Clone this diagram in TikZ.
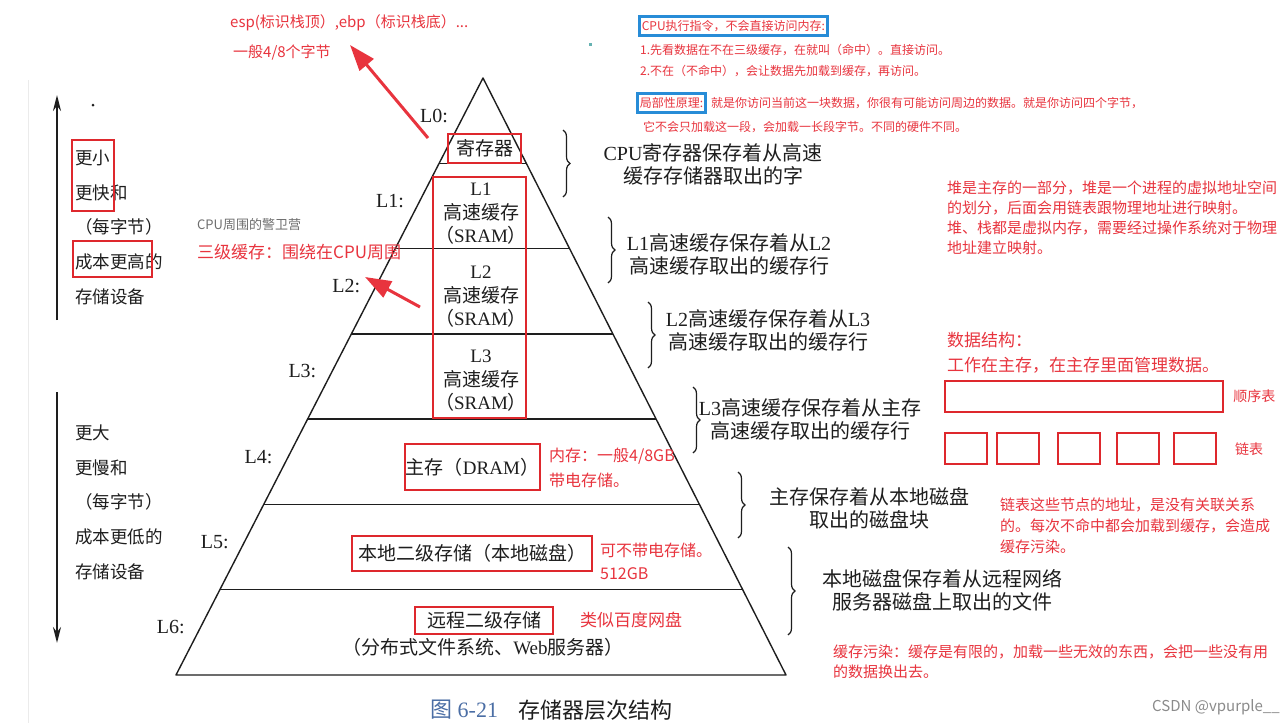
\documentclass[tikz,border=0pt]{standalone}
\usepackage{fontspec}
\setmainfont{Liberation Serif}
\newfontfamily\cjk{Noto Sans CJK SC}
\usetikzlibrary{calc,positioning,arrows.meta,decorations.pathreplacing}
\definecolor{ink}{RGB}{30,30,30}
\definecolor{notered}{RGB}{232,52,62}
\definecolor{boxred}{RGB}{222,40,45}
\definecolor{boxblue}{RGB}{40,140,215}
\definecolor{figblue}{RGB}{75,110,165}
\definecolor{soft}{RGB}{110,110,110}
\newcommand{\fsz}[2]{\fontsize{#1}{#2}\selectfont}
\tikzset{
    level tag/.style={font=\rmfamily\fsz{20}{24}, text=ink, anchor=east, inner sep=0pt},
    book text/.style={font=\cjk\fsz{19}{23.5}, text=ink, align=center, inner sep=0pt},
    hold text/.style={font=\cjk\fsz{20}{23}, text=ink, align=center, inner sep=0pt},
    side text/.style={font=\cjk\fsz{17.5}{22}, text=ink, anchor=west, inner sep=0pt},
    note/.style={font=\cjk\fsz{15}{20}, text=notered, anchor=west, align=left, inner sep=0pt},
    small note/.style={note, font=\cjk\fsz{12}{14}},
    red frame/.style={draw=boxred, line width=2.5pt},
    blue frame/.style={draw=boxblue, line width=2.5pt, inner xsep=2.5pt, inner ysep=4pt},
    level brace/.style={draw=ink, line width=1.2pt, decorate, decoration={brace, amplitude=7pt}},
    mark arrow/.style={draw=notered, line width=3pt, -{Triangle[length=26pt,width=18pt]}},
    >={Stealth[length=16pt,width=8pt]}
}

\begin{document}
\begin{tikzpicture}[x=1pt,y=-1pt]
\useasboundingbox (0,0) rectangle (1286,723);
\fill[white] (0,0) rectangle (1286,723);
\draw[black!8, line width=1pt] (28,80) -- (28,723);

% pyramid
\coordinate (apex) at (483,78);
\coordinate (bl) at (176,675);
\coordinate (br) at (786,675);
\draw[ink, line width=1.4pt, line join=round] (bl) -- (apex) -- (br) -- cycle;
\foreach \k [evaluate=\k as \f using \k/7] in {1,...,6}
    \draw[ink, line width=1.4pt] ($(apex)!\f!(bl)$) -- ($(apex)!\f!(br)$);
\foreach \k [evaluate=\k as \f using (\k+0.5)/7] in {0,...,6}
    \node[level tag] (lvl\k) at ($(apex)!\f!(bl)+(-13,-5)$) {L\k:};

\node[book text, red frame, minimum width=73pt, minimum height=29pt] (reg) at (484.5,148.5) {寄存器};
\foreach \i/\y in {1/214,2/297,3/381}
    \node[book text] (cache\i) at (481,\y) {\textrm{L\i}\\高速缓存\\（\textrm{SRAM}）};
\draw[red frame] (433,177) rectangle (526,418);
\node[book text, red frame, minimum width=135pt, minimum height=46pt] (dram) at (472.5,467) {主存（\textrm{DRAM}）};
\node[book text, red frame, minimum width=240pt, minimum height=35pt] (disk) at (472,553.5) {本地二级存储（本地磁盘）};
\node[book text, red frame, minimum width=138pt, minimum height=27pt] (remote) at (484,620.5) {远程二级存储};
\node[book text] (dfs) at (483,647) {（分布式文件系统、\textrm{Web}服务器）};

% braces on the right
\foreach \k/\x/\ya/\yb in {0/563/130/197,1/608/217/283,2/648/302/368,3/693/387/453,4/738/472/538,5/788/547/635}
    \draw[level brace] (\x,\ya) -- (\x,\yb);
\foreach \k/\x/\y/\txt in {0/713/164/{\textrm{CPU}寄存器保存着从高速\\缓存存储器取出的字},
        1/729/254/{\textrm{L1}高速缓存保存着从\textrm{L2}\\高速缓存取出的缓存行},
        2/768/330/{\textrm{L2}高速缓存保存着从\textrm{L3}\\高速缓存取出的缓存行},
        3/810/419/{\textrm{L3}高速缓存保存着从主存\\高速缓存取出的缓存行},
        4/869/508/{主存保存着从本地磁盘\\取出的磁盘块},
        5/942/590/{本地磁盘保存着从远程网络\\服务器磁盘上取出的文件}}
    \node[hold text] (hold\k) at (\x,\y) {\txt};

% left side
\coordinate (upfoot) at (57,320);
\coordinate (uptip) at (57,95);
\coordinate (downfoot) at (57,392);
\coordinate (downtip) at (57,643);
\draw[ink, line width=2pt, ->] (upfoot) -- (uptip);
\draw[ink, line width=2pt, ->] (downfoot) -- (downtip);
\fill[ink] (93,105) circle (1.5pt);
\foreach \i/\y/\txt in {0/158/更小,1/193/更快和,2/227/（每字节）,3/262/成本更高的,4/297/存储设备}
    \node[side text] (fast\i) at (75,\y) {\txt};
\foreach \i/\y/\txt in {0/433/更大,1/468/更慢和,2/502/（每字节）,3/537/成本更低的,4/572/存储设备}
    \node[side text] (slow\i) at (75,\y) {\txt};
\draw[red frame] (72,140) rectangle (114,211);
\draw[red frame] (73,241) rectangle (152,277);

\node[font=\rmfamily\fsz{22}{26}, text=figblue, anchor=west, inner sep=0pt] (fignum) at (430,710) {{\cjk 图}~6-21};
\node[hold text, font=\cjk\fsz{22}{26}, anchor=west] (figname) at (518,710) {存储器层次结构};

% red notes
\node[note] (esp) at (230,23) {esp(标识栈顶）,ebp（标识栈底）...};
\node[note] (wordsize) at (233,52) {一般4/8个字节};
\coordinate (regtail) at (428,138);
\coordinate (regtip) at (350,45);
\draw[mark arrow] (regtail) -- (regtip);
\node[note, text=soft, font=\cjk\fsz{13}{16}] (guard) at (197,225) {CPU周围的警卫营};
\node[note, font=\cjk\fsz{17}{20}] (ringnote) at (197,252) {三级缓存：围绕在CPU周围};
\coordinate (ringtail) at (420,307);
\coordinate (ringtip) at (365,277);
\draw[mark arrow] (ringtail) -- (ringtip);
\node[note, font=\cjk\fsz{16}{25}] (dramnote) at (549,467.5) {内存：一般4/8GB\\带电存储。};
\node[note, font=\cjk\fsz{16}{23}] (disknote) at (600,561.5) {可不带电存储。\\512GB};
\node[note, font=\cjk\fsz{17}{20}] (cloudnote) at (580,620) {类似百度网盘};

% top right
\fill[teal!60] (588.5,42.5) rectangle (591.5,45.5);
\node[small note, blue frame] (cpu) at (638,26) {CPU执行指令，不会直接访问内存:};
\node[small note] (hit) at (640,50) {1.先看数据在不在三级缓存，在就叫（命中）。直接访问。};
\node[small note] (miss) at (640,71) {2.不在（不命中），会让数据先加载到缓存，再访问。};
\node[small note, blue frame] (locality) at (636,103) {局部性原理:};
\node[small note, right=4pt of locality] (loc1) {就是你访问当前这一块数据，你很有可能访问周边的数据。就是你访问四个字节，};
\node[small note] (loc2) at (643,127) {它不会只加载这一段，会加载一长段字节。不同的硬件不同。};

% right side
\node[note] (heap) at (947,218) {堆是主存的一部分，堆是一个进程的虚拟地址空间\\的划分，后面会用链表跟物理地址进行映射。\\堆、栈都是虚拟内存，需要经过操作系统对于物理\\地址建立映射。};
\node[note, font=\cjk\fsz{17}{25}] (ds) at (947,352.5) {数据结构：\\工作在主存，在主存里面管理数据。};
\node[red frame, minimum width=278pt, minimum height=31pt, inner sep=0pt] (seq) at (1084,396.5) {};
\node[note, font=\cjk\fsz{14}{16}, right=9pt of seq] (seqlabel) {顺序表};
\foreach \i/\x in {0/966,1/1018,2/1079,3/1138,4/1195}
    \node[red frame, minimum width=42pt, minimum height=31pt, inner sep=0pt] (item\i) at (\x,448.5) {};
\node[note, font=\cjk\fsz{14}{16}] (listlabel) at (1235,449) {链表};
\node[note, font=\cjk\fsz{15}{21}] (linknote) at (1000,526) {链表这些节点的地址，是没有关联关系\\的。每次不命中都会加载到缓存，会造成\\缓存污染。};
\node[note] (pollute) at (833,662) {缓存污染：缓存是有限的，加载一些无效的东西，会把一些没有用\\的数据换出去。};
\node[note, text=soft!80, font=\cjk\fsz{15}{18}] (csdn) at (1152,707) {CSDN @vpurple\_\_};
\end{tikzpicture}
\end{document}
